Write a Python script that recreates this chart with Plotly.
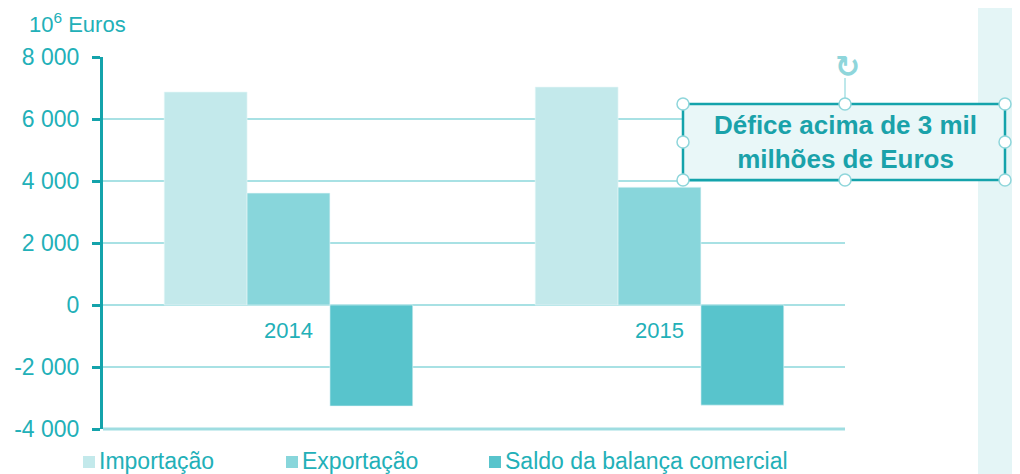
import plotly.graph_objects as go

# data (10^6 Euros)
years = ["2014", "2015"]
importacao = [6870, 7030]
exportacao = [3610, 3800]
saldo = [-3260, -3230]

series_names = ["Importação", "Exportação", "Saldo da balança comercial"]
colors = ["#c3e9eb", "#88d6db", "#58c4cc"]

y_ticks = [-4000, -2000, 0, 2000, 4000, 6000, 8000]
y_labels = ["-4 000", "-2 000", "0", "2 000", "4 000", "6 000", "8 000"]

TEAL = "#22b0b8"
TEAL_DARK = "#14a3ab"
GRID = "#a8e1e4"

# page is offset by the 8px body margin; work in page pixels
OFF = 8
W, H = 1020 - OFF, 474 - OFF
PL, PR, PT, PB = 103, 845, 57, 429          # plot area in page pixels
L, R, T, B = PL - OFF, (W + OFF) - PR, PT - OFF, (H + OFF) - PB
PW, PH = PR - PL, PB - PT


def px(x):
    return (x - PL) / PW


def py(y):
    return (PB - y) / PH


fig = go.Figure()
for name, vals, c in zip(series_names, [importacao, exportacao, saldo], colors):
    fig.add_trace(go.Bar(x=years, y=vals, name=name, marker_color=c,
                         marker_line_width=0.6, marker_line_color="#e8f7f8"))

fig.update_layout(
    width=W, height=H,
    margin=dict(l=L, r=R, t=T, b=B, autoexpand=False),
    paper_bgcolor="white", plot_bgcolor="white",
    barmode="group", bargap=0.33, bargroupgap=0,
    font=dict(family="Liberation Sans, Arial", color=TEAL),
    showlegend=False,
    xaxis=dict(anchor="free", position=1 / 3, showline=False, showgrid=False,
               ticks="", ticklabelstandoff=10, tickfont=dict(size=22, color=TEAL)),
    yaxis=dict(range=[-4000, 8000], tickvals=y_ticks, ticktext=y_labels,
               showgrid=True, gridcolor=GRID, gridwidth=2,
               zeroline=True, zerolinecolor=GRID, zerolinewidth=2,
               showline=True, linecolor=TEAL_DARK, linewidth=3,
               ticks="outside", ticklen=8, tickwidth=3, tickcolor=TEAL_DARK,
               ticklabelstandoff=8, tickfont=dict(size=23, color=TEAL)),
)

# bottom axis line at -4000
fig.add_shape(type="line", xref="paper", yref="paper", x0=0, x1=1, y0=0, y1=0,
              line=dict(color="#9fdde1", width=3))

# right-hand light panel
fig.add_shape(type="rect", xref="paper", yref="paper", x0=px(978), x1=px(1020),
              y0=py(474), y1=py(0), fillcolor="#e4f5f6", line_width=0, layer="below")

# unit label
fig.add_annotation(text="10<sup>6</sup> Euros", xref="paper", yref="paper",
                   x=px(27), y=py(23), xanchor="left", yanchor="middle",
                   showarrow=False, font=dict(size=22, color=TEAL))

# legend: colour square + name
legend_x = [83, 286, 489]
for name, c, lx in zip(series_names, colors, legend_x):
    fig.add_shape(type="rect", xref="paper", yref="paper",
                  x0=px(lx), x1=px(lx + 12), y0=py(468), y1=py(456),
                  fillcolor=c, line_width=0)
    fig.add_annotation(text=name, xref="paper", yref="paper",
                       x=px(lx + 14), y=py(461), xanchor="left", yanchor="middle",
                       showarrow=False, font=dict(size=23, color=TEAL))

# call-out box
fig.add_shape(type="rect", xref="paper", yref="paper",
              x0=px(683), x1=px(1005), y0=py(180), y1=py(104),
              fillcolor="#e9f7f8", line=dict(color=TEAL_DARK, width=2.5))
fig.add_annotation(text="<b>Défice acima de 3 mil<br>milhões de Euros</b>",
                   xref="paper", yref="paper", x=px(845), y=py(142),
                   xanchor="center", yanchor="middle", showarrow=False,
                   font=dict(size=26, color="#1aa2aa"))

# selection handles around the call-out (as in the source screenshot)
fig.add_shape(type="line", xref="paper", yref="paper", x0=px(845), x1=px(845),
              y0=py(104), y1=py(78), line=dict(color="#a8e1e4", width=1.5))
for hx, hy in [(683, 104), (845, 104), (1005, 104), (683, 142), (1005, 142),
               (683, 180), (845, 180), (1005, 180)]:
    fig.add_shape(type="circle", xref="paper", yref="paper",
                  xsizemode="pixel", ysizemode="pixel",
                  xanchor=px(hx), yanchor=py(hy), x0=-6, x1=6, y0=-6, y1=6,
                  fillcolor="white", line=dict(color="#8fd6db", width=1.5))
fig.add_annotation(text="<b>↻</b>", xref="paper", yref="paper", x=px(847), y=py(67),
                   xanchor="center", yanchor="middle", showarrow=False,
                   font=dict(family="DejaVu Sans", size=30, color="#8fd6db"))

fig.write_html("out.html")
